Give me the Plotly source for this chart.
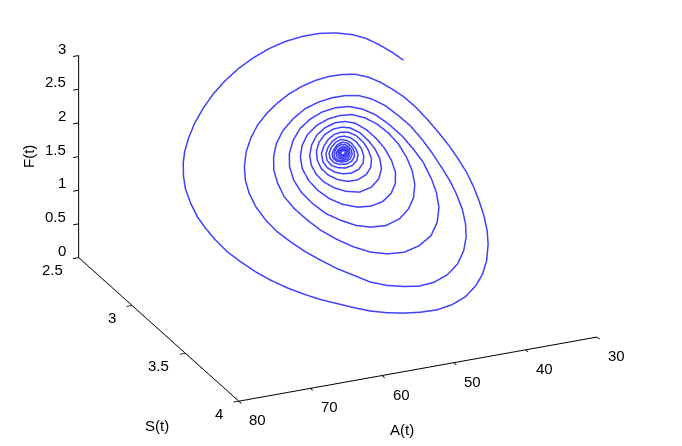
import plotly.graph_objects as go

A_values = [
    37.59, 38.71, 40.15, 41.67, 43.33, 45.58, 47.94, 50.44, 53.05, 55.78, 58.38, 61.08, 63.62, 65.99, 68.17, 70.16, 71.82,
    73.07, 73.90, 74.58, 74.99, 75.02, 74.82, 74.29, 73.53, 72.54, 71.22, 69.67, 68.03, 66.12, 64.13, 62.09, 59.98, 57.87,
    55.72, 53.47, 51.16, 48.77, 46.31, 43.92, 41.62, 39.61, 38.04, 36.75, 35.65, 35.06, 34.70, 34.58, 34.59, 34.79, 35.23,
    35.80, 36.56, 37.38, 38.36, 39.51, 40.72, 41.98, 43.34, 45.04, 46.93, 48.90, 50.99, 53.18, 55.49, 57.64, 59.58, 61.48,
    63.15, 64.49, 65.54, 66.13, 66.31, 66.10, 65.44, 64.44, 63.13, 61.58, 59.93, 58.06, 56.09, 54.13, 51.98, 49.70, 47.58,
    45.26, 42.97, 40.99, 39.42, 38.36, 37.72, 37.37, 37.38, 37.58, 38.02, 38.60, 39.26, 40.16, 41.25, 42.57, 44.07, 45.75,
    47.61, 49.61, 51.71, 53.94, 56.13, 58.17, 59.83, 60.93, 61.62, 61.79, 61.59, 60.83, 59.60, 58.29, 56.47, 54.54, 52.48,
    50.24, 47.81, 45.35, 43.17, 41.60, 40.54, 40.09, 40.06, 40.31, 40.98, 41.88, 43.10, 44.46, 46.01, 47.75, 49.69, 51.79,
    53.83, 55.74, 57.31, 58.56, 59.24, 59.37, 58.98, 57.99, 56.67, 54.94, 53.11, 51.11, 48.92, 46.69, 44.88, 43.54, 42.66,
    42.31, 42.37, 42.80, 43.60, 44.74, 46.04, 47.72, 49.41, 51.23, 53.23, 55.00, 56.33, 57.20, 57.56, 57.32, 56.56, 55.38,
    53.83, 51.88, 49.96, 48.07, 46.44, 45.33, 44.73, 44.65, 44.94, 45.56, 46.47, 47.73, 49.04, 50.51, 52.19, 53.77, 55.02,
    55.80, 56.12, 55.91, 55.26, 54.10, 52.65, 50.82, 48.91, 47.43, 46.51, 46.19, 46.34, 46.82, 47.56, 48.69, 49.82, 51.10,
    52.55, 53.77, 54.63, 55.01, 54.90, 54.24, 53.18, 51.87, 50.38, 48.92, 47.91, 47.36, 47.33, 47.61, 48.27, 49.16, 50.19,
    51.25, 52.36, 53.35, 54.08, 54.30, 54.01, 53.22, 52.15, 50.94, 49.72, 48.76, 48.30, 48.21, 48.54, 49.14, 49.94, 50.83,
    51.85, 52.78, 53.47, 53.65, 53.32, 52.52, 51.51, 50.38, 49.50, 49.00, 49.00, 49.30, 49.85, 50.59, 51.44, 52.32, 52.97,
    53.14, 52.80, 52.10, 51.15, 50.24, 49.61, 49.36, 49.48, 49.90, 50.55, 51.33, 52.03, 52.59, 52.69, 52.38, 51.74, 51.00,
    50.34, 49.84, 49.70, 49.84, 50.23, 50.77, 51.39, 51.99, 52.35, 52.41, 52.10, 51.51, 50.89, 50.37, 50.05, 49.99, 50.19,
    50.60, 51.12, 51.66, 52.03, 52.07, 51.77, 51.32, 50.83, 50.42, 50.23, 50.27, 50.52, 50.90, 51.30, 51.68, 51.82, 51.68,
    51.33, 50.90, 50.55, 50.43, 50.52, 50.76, 51.08, 51.41, 51.58, 51.47, 51.21, 50.87, 50.64, 50.59, 50.74, 50.98, 51.24,
    51.38, 51.29, 51.06, 50.86, 50.74,
]
S_values = [
    2.695, 2.668, 2.640, 2.617, 2.604, 2.598, 2.600, 2.611, 2.629, 2.656, 2.688, 2.728, 2.772, 2.820, 2.872, 2.926, 2.980,
    3.028, 3.070, 3.118, 3.166, 3.214, 3.262, 3.304, 3.346, 3.388, 3.424, 3.460, 3.490, 3.517, 3.540, 3.559, 3.574, 3.588,
    3.600, 3.606, 3.607, 3.604, 3.595, 3.576, 3.547, 3.508, 3.466, 3.418, 3.358, 3.310, 3.256, 3.202, 3.148, 3.100, 3.052,
    3.004, 2.956, 2.911, 2.866, 2.827, 2.800, 2.776, 2.758, 2.747, 2.748, 2.755, 2.770, 2.791, 2.820, 2.854, 2.890, 2.932,
    2.980, 3.028, 3.082, 3.130, 3.178, 3.226, 3.274, 3.316, 3.352, 3.388, 3.418, 3.448, 3.472, 3.496, 3.508, 3.511, 3.510,
    3.496, 3.468, 3.430, 3.382, 3.334, 3.286, 3.232, 3.178, 3.130, 3.082, 3.028, 2.980, 2.932, 2.896, 2.860, 2.836, 2.824,
    2.824, 2.832, 2.848, 2.872, 2.908, 2.950, 2.998, 3.046, 3.094, 3.142, 3.190, 3.232, 3.274, 3.310, 3.343, 3.370, 3.388,
    3.394, 3.388, 3.364, 3.328, 3.280, 3.226, 3.172, 3.124, 3.064, 3.016, 2.968, 2.926, 2.892, 2.872, 2.863, 2.868, 2.884,
    2.910, 2.944, 2.986, 3.034, 3.082, 3.130, 3.172, 3.214, 3.250, 3.274, 3.292, 3.298, 3.292, 3.268, 3.232, 3.190, 3.142,
    3.094, 3.046, 2.998, 2.958, 2.926, 2.904, 2.892, 2.896, 2.908, 2.932, 2.965, 3.004, 3.046, 3.088, 3.130, 3.166, 3.196,
    3.216, 3.226, 3.222, 3.205, 3.175, 3.139, 3.100, 3.058, 3.016, 2.980, 2.947, 2.923, 2.917, 2.922, 2.940, 2.968, 3.004,
    3.040, 3.076, 3.108, 3.136, 3.157, 3.169, 3.172, 3.154, 3.124, 3.088, 3.052, 3.016, 2.986, 2.958, 2.940, 2.938, 2.945,
    2.964, 2.992, 3.024, 3.058, 3.088, 3.112, 3.127, 3.133, 3.127, 3.108, 3.082, 3.052, 3.019, 2.992, 2.968, 2.956, 2.956,
    2.964, 2.982, 3.007, 3.034, 3.064, 3.084, 3.100, 3.106, 3.103, 3.090, 3.067, 3.043, 3.016, 2.992, 2.976, 2.970, 2.974,
    2.988, 3.010, 3.034, 3.058, 3.076, 3.084, 3.085, 3.076, 3.058, 3.037, 3.016, 2.995, 2.986, 2.982, 2.992, 3.010, 3.031,
    3.052, 3.066, 3.072, 3.071, 3.060, 3.043, 3.024, 3.007, 2.995, 2.992, 3.000, 3.016, 3.034, 3.049, 3.060, 3.064, 3.061,
    3.052, 3.037, 3.022, 3.010, 3.001, 3.000, 3.007, 3.022, 3.036, 3.049, 3.056, 3.058, 3.054, 3.044, 3.032, 3.019, 3.011,
    3.007, 3.011, 3.022, 3.034, 3.046, 3.050, 3.052, 3.047, 3.038, 3.029, 3.019, 3.014, 3.014, 3.019, 3.029, 3.038, 3.044,
    3.046, 3.042, 3.035, 3.026, 3.020, 3.018, 3.020, 3.026, 3.035, 3.040, 3.041, 3.037, 3.031, 3.025, 3.023, 3.023, 3.028,
    3.034, 3.037, 3.037, 3.034, 3.029,
]
F_values = [
    2.400, 2.497, 2.600, 2.691, 2.759, 2.819, 2.859, 2.878, 2.880, 2.862, 2.825, 2.771, 2.701, 2.617, 2.520, 2.413, 2.300,
    2.194, 2.097, 1.980, 1.858, 1.729, 1.596, 1.472, 1.343, 1.211, 1.088, 0.960, 0.847, 0.735, 0.635, 0.543, 0.463, 0.383,
    0.308, 0.248, 0.200, 0.163, 0.138, 0.143, 0.176, 0.244, 0.327, 0.431, 0.572, 0.690, 0.829, 0.973, 1.119, 1.253, 1.391,
    1.532, 1.677, 1.813, 1.955, 2.081, 2.179, 2.269, 2.344, 2.406, 2.440, 2.459, 2.461, 2.445, 2.412, 2.363, 2.304, 2.228,
    2.130, 2.027, 1.901, 1.783, 1.657, 1.523, 1.380, 1.247, 1.124, 0.997, 0.884, 0.766, 0.663, 0.559, 0.485, 0.431, 0.393,
    0.387, 0.416, 0.482, 0.581, 0.690, 0.807, 0.946, 1.092, 1.226, 1.364, 1.522, 1.664, 1.812, 1.930, 2.053, 2.147, 2.213,
    2.249, 2.265, 2.264, 2.243, 2.188, 2.114, 2.017, 1.909, 1.792, 1.666, 1.532, 1.404, 1.266, 1.143, 1.017, 0.908, 0.819,
    0.759, 0.728, 0.745, 0.800, 0.899, 1.024, 1.161, 1.291, 1.458, 1.600, 1.748, 1.885, 2.003, 2.088, 2.145, 2.169, 2.168,
    2.137, 2.083, 2.000, 1.895, 1.778, 1.651, 1.530, 1.397, 1.274, 1.175, 1.091, 1.036, 1.009, 1.031, 1.093, 1.180, 1.293,
    1.416, 1.546, 1.685, 1.807, 1.917, 2.001, 2.066, 2.089, 2.092, 2.066, 2.010, 1.932, 1.836, 1.729, 1.611, 1.499, 1.395,
    1.309, 1.245, 1.218, 1.226, 1.276, 1.351, 1.447, 1.559, 1.678, 1.787, 1.892, 1.982, 2.024, 2.040, 2.024, 1.980, 1.907,
    1.825, 1.734, 1.642, 1.555, 1.474, 1.413, 1.371, 1.382, 1.434, 1.514, 1.605, 1.705, 1.796, 1.885, 1.955, 1.984, 1.989,
    1.966, 1.915, 1.844, 1.761, 1.678, 1.600, 1.537, 1.495, 1.482, 1.506, 1.557, 1.628, 1.715, 1.795, 1.873, 1.922, 1.942,
    1.940, 1.913, 1.865, 1.807, 1.731, 1.670, 1.612, 1.575, 1.558, 1.570, 1.613, 1.669, 1.742, 1.813, 1.867, 1.899, 1.906,
    1.887, 1.847, 1.796, 1.734, 1.679, 1.641, 1.618, 1.622, 1.653, 1.699, 1.757, 1.818, 1.855, 1.879, 1.869, 1.838, 1.792,
    1.740, 1.695, 1.665, 1.650, 1.661, 1.694, 1.741, 1.789, 1.830, 1.852, 1.845, 1.816, 1.778, 1.738, 1.703, 1.681, 1.673,
    1.686, 1.715, 1.754, 1.790, 1.820, 1.834, 1.826, 1.799, 1.767, 1.733, 1.707, 1.692, 1.690, 1.706, 1.732, 1.767, 1.793,
    1.811, 1.811, 1.793, 1.767, 1.736, 1.717, 1.705, 1.708, 1.723, 1.745, 1.772, 1.790, 1.797, 1.792, 1.773, 1.750, 1.731,
    1.721, 1.723, 1.735, 1.756, 1.774, 1.785, 1.785, 1.775, 1.755, 1.740, 1.732, 1.735, 1.747, 1.762, 1.772, 1.776, 1.768,
    1.755, 1.743, 1.739, 1.745, 1.755,
]

A_ticks = [30, 40, 50, 60, 70, 80]
S_ticks = [2.5, 3, 3.5, 4]
F_ticks = [0, 0.5, 1, 1.5, 2, 2.5, 3]

TEXT_FONT = dict(size=15, color='black', family='Liberation Sans')

fig = go.Figure()
fig.add_trace(go.Scatter3d(x=A_values, y=S_values, z=F_values, mode='lines',
                           line=dict(color='#4040ff', width=3)))


def axis(ticks, rng, tick_side='outside'):
    return dict(title=dict(text=''), range=rng, tickvals=ticks, showticklabels=False,
                showgrid=False, showbackground=False, zeroline=False, showspikes=False,
                showline=True, linecolor='black', linewidth=2,
                ticks=tick_side, ticklen=6, tickcolor='black', tickwidth=2)


# tick labels sit on the axes as scene annotations, gl labels collide at the corner
def tick_label(x, y, z, text, xanchor, xshift, yshift):
    return dict(x=x, y=y, z=z, text=text, showarrow=False, font=TEXT_FONT,
                xanchor=xanchor, yanchor='middle', xshift=xshift, yshift=yshift)


tick_labels = []
for t in A_ticks:
    tick_labels.append(tick_label(t, 4, 0, str(t), 'center', 19, -18.5))
for t in S_ticks:
    tick_labels.append(tick_label(80, t, 0, str(t), 'right', -14, -12))
for t in F_ticks:
    tick_labels.append(tick_label(80, 2.5, t, str(t), 'right', -10.7, 7.5))


def title(text, px, py, angle=0):
    return dict(text=text, x=px / 682, y=1 - py / 446, xref='paper', yref='paper', showarrow=False,
                xanchor='center', yanchor='middle', textangle=angle, font=TEXT_FONT)


fig.update_layout(
    width=682, height=446, margin=dict(l=0, r=0, t=0, b=0), showlegend=False,
    paper_bgcolor='white',
    scene=dict(
        domain=dict(x=[0, 1], y=[0, 1]),
        xaxis=axis(A_ticks, [30, 80]),
        yaxis=axis(S_ticks, [2.5, 4]),
        zaxis=axis(F_ticks, [0, 3], 'inside'),
        aspectmode='manual', aspectratio=dict(x=1.76, y=1.76, z=0.989),
        camera=dict(eye=dict(x=0.3285, y=0.8573, z=0.231), projection=dict(type='orthographic'),
                    up=dict(x=0, y=0, z=1), center=dict(x=-0.0455, y=0.0203, z=-0.17)),
        annotations=tick_labels,
    ),
    # page body margin moves everything by 8px, so titles are placed 8px up and left
    annotations=[title('A(t)', 394, 421), title('S(t)', 149, 417), title('F(t)', 21, 149, -90)],
)
fig.write_html("out.html")
